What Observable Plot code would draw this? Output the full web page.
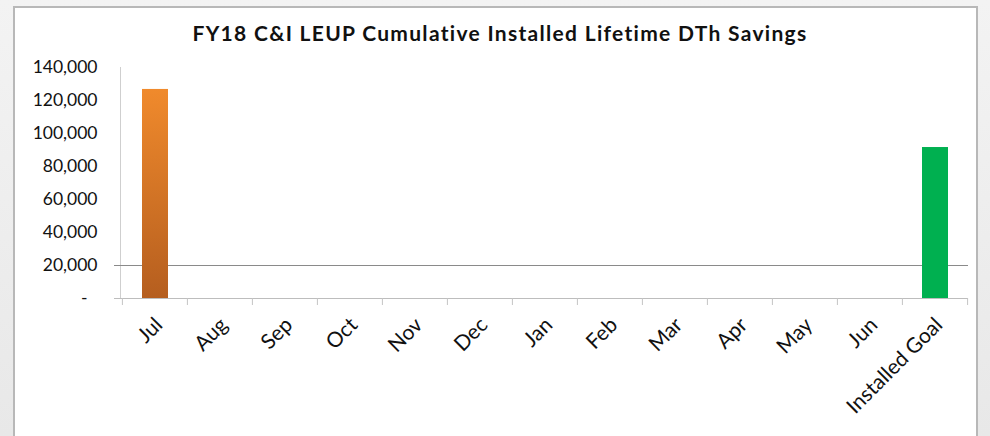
<!DOCTYPE html>
<html>
<head>
<meta charset="utf-8">
<script src="https://cdn.jsdelivr.net/npm/d3@7"></script>
<script src="https://cdn.jsdelivr.net/npm/@observablehq/plot@0.6"></script>
<style>
  html, body { margin: 0; padding: 0; }
  body { width: 990px; height: 436px; background: linear-gradient(#f3f3f3, #e8e8e8); position: relative; overflow: hidden; font-family: Lato, "Open Sans", sans-serif; }
  #box { position: absolute; left: 13px; top: 6px; width: 965px; height: 450px; background: #fff; border: 2px solid #b8b8b8; box-sizing: border-box; }
  #title { position: absolute; left: 0; top: 20px; width: 1000px; text-align: center; font-weight: bold; font-size: 21px; letter-spacing: 1.3px; color: #111; }
  #chart { position: absolute; left: 0; top: 0; }
</style>
</head>
<body>
<div id="box"></div>
<div id="title">FY18 C&amp;I LEUP Cumulative Installed Lifetime DTh Savings</div>
<div id="chart"></div>
<script>
const categories = ["Jul","Aug","Sep","Oct","Nov","Dec","Jan","Feb","Mar","Apr","May","Jun","Installed Goal"];
const values = [126700, null, null, null, null, null, null, null, null, null, null, null, 91500];
const yTicks = [0, 20000, 40000, 60000, 80000, 100000, 120000, 140000];

const data = categories.map((c, i) => ({cat: c, value: values[i]})).filter(d => d.value != null);
const fmt = d3.format(",");

const plot = Plot.plot({
  width: 990,
  height: 436,
  marginLeft: 120,
  marginRight: 22,
  marginTop: 67,
  marginBottom: 138,
  style: {fontFamily: "Lato, 'Open Sans', sans-serif", background: "transparent", overflow: "visible"},
  x: {domain: categories, padding: 0, align: 0.5, label: null},
  y: {domain: [0, 140000], ticks: yTicks, label: null},
  marks: [
    Plot.frame({anchor: "left", stroke: "#cfcfcf"}),
    Plot.ruleY([20000], {stroke: "#8a8a8a", strokeWidth: 1, insetLeft: -6}),
    Plot.barY(data, {
      x: "cat", y: "value", insetLeft: 20, insetRight: 19,
      fill: d => d.cat === "Jul" ? "url(#orangeGrad)" : "#00b050"
    }),
    Plot.ruleY([0], {stroke: "#bdbdbd", strokeWidth: 1, insetLeft: -6}),
    Plot.axisY({ticks: yTicks.filter(t => t !== 0), tickSize: 0, tickPadding: 23, tickFormat: fmt, fontSize: 17.5, fill: "#111"}),
    Plot.axisY({ticks: [0], tickSize: 0, tickPadding: 33, tickFormat: () => "-", fontSize: 17.5, fill: "#111"}),
    Plot.axisX({tickSize: 7, dx: -32.6, tickFormat: () => "", stroke: "#c4c4c4"}),
    Plot.axisX({ticks: ["Installed Goal"], tickSize: 7, dx: 32.6, tickFormat: () => "", stroke: "#c4c4c4"}),
    Plot.axisX({tickSize: 0, tickRotate: -45, tickPadding: 23, dx: 4, fontSize: 21, fill: "#111"})
  ]
});

const svg = d3.select(plot);
const defs = svg.insert("defs", ":first-child");
const grad = defs.append("linearGradient").attr("id", "orangeGrad").attr("x1", 0).attr("y1", 0).attr("x2", 0).attr("y2", 1);
grad.append("stop").attr("offset", "0%").attr("stop-color", "#f08a2c");
grad.append("stop").attr("offset", "100%").attr("stop-color", "#b55e1f");

document.getElementById("chart").appendChild(plot);
</script>
</body>
</html>
